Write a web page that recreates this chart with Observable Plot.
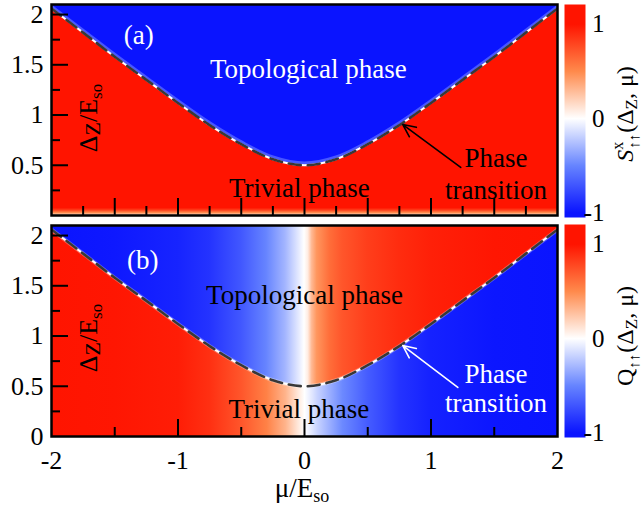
<!DOCTYPE html>
<html>
<head>
<meta charset="utf-8">
<script src="https://cdn.jsdelivr.net/npm/d3@7"></script>
<script src="https://cdn.jsdelivr.net/npm/@observablehq/plot@0.6"></script>
<style>
  html,body{margin:0;padding:0;background:#fff;}
  #fig{position:relative;width:641px;height:506px;overflow:hidden;background:#fff;}
  #fig svg{position:absolute;}
</style>
</head>
<body>
<div id="fig"></div>
<script>
// ---------------- data ----------------
// phase boundary (dashed curve), Δ_Z/E_so against μ/E_so
const muPoints      = [-2, -1.75, -1.5, -1.25, -1, -0.75, -0.5, -0.25, 0, 0.25, 0.5, 0.75, 1, 1.25, 1.5, 1.75, 2];
const boundaryDelta = [2.06, 1.82, 1.58, 1.35, 1.12, 0.90, 0.71, 0.56, 0.50, 0.56, 0.71, 0.90, 1.12, 1.35, 1.58, 1.82, 2.06];

// colour map of the colour bars
const colorValues = [-1, -0.5, 0, 0.5, 1];
const colorHexes  = ["#0a14ff", "#6684ff", "#ffffff", "#ff8a4c", "#ff1400"];

// panel (a): S^x value in each phase, and the fade close to Δ_Z = 0
const sTrivial = 1, sTopological = -1;
const fadeEdges  = [0, 0.01, 0.02, 0.03, 0.04, 0.05, 0.06, 0.07];
const fadeValues = [0.25, 0.36, 0.5, 0.63, 0.76, 0.86, 0.94];

// panel (b): Q profile along μ in each phase
const qMu          = [-2, -1.5, -1, -0.75, -0.5, -0.3, -0.15, -0.05, 0, 0.03, 0.06, 0.1, 0.2, 0.3, 0.5, 0.75, 1, 1.5, 2];
const qTopological = [-1, -0.98, -0.93, -0.86, -0.7, -0.5, -0.3, -0.1, 0, 0.08, 0.3, 0.45, 0.62, 0.72, 0.82, 0.9, 0.95, 0.99, 1];
const qTrivial     = [1, 0.99, 0.96, 0.88, 0.72, 0.54, 0.32, 0.1, 0, -0.05, -0.1, -0.18, -0.33, -0.48, -0.68, -0.86, -0.94, -0.99, -1];

// ticks
const yLabelsA = [0.5, 1, 1.5, 2];
const yLabelsB = [0, 0.5, 1, 1.5, 2];
const yMajor = [0.5, 1, 1.5, 2];
const yMinor = [0.25, 0.75, 1.25, 1.75];
const xMajorA = [-1.5, -1, -0.5, 0, 0.5, 1, 1.5];
const xMinorA = [-1.75, -1.25, -0.75, -0.25, 0.25, 0.75, 1.25, 1.75];
const xMajorB = [-1, 0, 1];
const xMinorB = [-1.5, -0.5, 0.5, 1.5];
const xLabels = [-2, -1, 0, 1, 2];
const cbTicks = [-1, 0, 1];

// annotations (data coordinates)
const labelsA = [
  {mu: -1.31, delta: 1.71, text: "(a)", fill: "white"},
  {mu: 0.03, delta: 1.365, text: "Topological phase", fill: "white"},
  {mu: -0.04, delta: 0.18, text: "Trivial phase", fill: "black"},
  {mu: 1.514, delta: 0.478, text: "Phase", fill: "black"},
  {mu: 1.514, delta: 0.169, text: "transition", fill: "black"}
];
const labelsB = [
  {mu: -1.278, delta: 1.67, text: "(b)", fill: "white"},
  {mu: 0.0, delta: 1.323, text: "Topological phase", fill: "black"},
  {mu: -0.045, delta: 0.189, text: "Trivial phase", fill: "black"},
  {mu: 1.514, delta: 0.537, text: "Phase", fill: "white"},
  {mu: 1.514, delta: 0.239, text: "transition", fill: "white"}
];
const arrowA = [{x1: 1.235, y1: 0.478, x2: 0.777, y2: 0.905}];
const arrowB = [{x1: 1.212, y1: 0.488, x2: 0.777, y2: 0.905}];

// ---------------- construction ----------------
const xDomain = [-2, 2], yMax = 2.1;
const cbMin = -1.05, cbMax = 1.21;
const FW = 506, FH = 211;
const FONT = "'Liberation Serif', 'Times New Roman', serif";
const curve = "catmull-rom";

const boundary = muPoints.map((mu, i) => ({mu, delta: boundaryDelta[i]}));
const fade = fadeValues.map((v, i) => ({lo: fadeEdges[i], hi: fadeEdges[i + 1], v}));

const colorOpts = {type: "linear", domain: colorValues, range: colorHexes, interpolate: "rgb", clamp: true};
const cscale = Plot.scale({color: colorOpts});
const col = v => cscale.apply(v);

const fig = d3.select("#fig");

// gradient definitions
const defsSvg = fig.append("svg").attr("width", 0).attr("height", 0).style("left", "0px").style("top", "0px");
const defs = defsSvg.append("defs");
function hGradient(id, mus, vals) {
  const g = defs.append("linearGradient").attr("id", id)
    .attr("x1", 0).attr("x2", 1).attr("y1", 0).attr("y2", 0);
  mus.forEach((m, i) => g.append("stop")
    .attr("offset", (m - xDomain[0]) / (xDomain[1] - xDomain[0]))
    .attr("stop-color", col(vals[i])));
}
hGradient("qTopoGrad", qMu, qTopological);
hGradient("qTrivGrad", qMu, qTrivial);
{
  const g = defs.append("linearGradient").attr("id", "cbGrad")
    .attr("x1", 0).attr("x2", 0).attr("y1", 1).attr("y2", 0);
  colorValues.forEach(v => g.append("stop")
    .attr("offset", (v - cbMin) / (cbMax - cbMin))
    .attr("stop-color", col(v)));
}

function rich(svg, x, y, parts, {size = 26, rotate = 0, anchor = "middle", fill = "black"} = {}) {
  const t = d3.select(svg).append("text")
    .attr("transform", `translate(${x},${y}) rotate(${rotate})`)
    .attr("text-anchor", anchor)
    .attr("font-family", FONT)
    .attr("font-size", size)
    .attr("fill", fill);
  let cur = 0;
  for (const p of parts) {
    const shift = p.shift || 0;
    const ts = t.append("tspan").text(p.t).attr("dy", shift - cur);
    if (p.size) ts.attr("font-size", p.size);
    if (p.dx) ts.attr("dx", p.dx);
    if (p.italic) ts.attr("font-style", "italic");
    cur = shift;
  }
}

function commonMarks(xMajor, xMinor) {
  return [
    Plot.line(boundary, {x: "mu", y: "delta", curve, stroke: "#383838", strokeWidth: 2.6, strokeDasharray: "12,7", clip: true}),
    Plot.tickY(yMajor, {y: d => d, stroke: "black", strokeWidth: 2, insetRight: FW - 17}),
    Plot.tickY(yMinor, {y: d => d, stroke: "black", strokeWidth: 2, insetRight: FW - 9}),
    Plot.tickX(xMajor, {x: d => d, stroke: "black", strokeWidth: 2, insetTop: FH - 17}),
    Plot.tickX(xMinor, {x: d => d, stroke: "black", strokeWidth: 2, insetTop: FH - 9}),
    Plot.frame({stroke: "black", strokeWidth: 2.5})
  ];
}
function textMarks(labels) {
  return ["white", "black"].map(c => Plot.text(labels.filter(d => d.fill === c), {
    x: "mu", y: "delta", text: "text", fill: c, fontSize: 27, lineAnchor: "bottom"
  }));
}

// ---------- panel (a) ----------
const pa = Plot.plot({
  width: 575, height: 220, marginLeft: 51, marginRight: 18, marginTop: 4, marginBottom: 5,
  style: {fontFamily: FONT, fontSize: "26px", background: "transparent"},
  x: {domain: xDomain, axis: null},
  y: {domain: [0, yMax], axis: null},
  color: colorOpts,
  marks: [
    Plot.frame({fill: col(sTrivial)}),
    Plot.rect(fade, {x1: () => xDomain[0], x2: () => xDomain[1], y1: "lo", y2: "hi", fill: "v", shapeRendering: "crispEdges"}),
    Plot.areaY(boundary, {x: "mu", y1: "delta", y2: () => yMax, fill: col(sTopological), curve}),
    Plot.line(boundary, {x: "mu", y: "delta", curve, stroke: col(-0.35), strokeWidth: 3.5, dy: -2, strokeOpacity: 0.45, clip: true}),
    Plot.line(boundary, {x: "mu", y: "delta", curve, stroke: "white", strokeWidth: 2, clip: true}),
    ...commonMarks(xMajorA, xMinorA),
    Plot.axisY(yLabelsA, {tickSize: 0, tickPadding: 8, fontSize: 26, tickFormat: d => String(d)}),
    ...textMarks(labelsA),
    Plot.arrow(arrowA, {x1: "x1", y1: "y1", x2: "x2", y2: "y2", stroke: "black", strokeWidth: 1.6, headLength: 13, headAngle: 50})
  ]
});
fig.node().appendChild(pa);
d3.select(pa).style("left", "0px").style("top", "0px");
rich(pa, 97, 118, [{t: "Δ"}, {t: "Z", size: 22, shift: 3}, {t: "/E"}, {t: "so", size: 17, shift: 5}], {size: 26, rotate: -90});

// ---------- panel (b) ----------
const pb = Plot.plot({
  width: 575, height: 286, marginLeft: 51, marginRight: 18, marginTop: 5, marginBottom: 70,
  style: {fontFamily: FONT, fontSize: "26px", background: "transparent"},
  x: {domain: xDomain, axis: null},
  y: {domain: [0, yMax], axis: null},
  color: colorOpts,
  marks: [
    Plot.frame({fill: "url(#qTrivGrad)"}),
    Plot.areaY(boundary, {x: "mu", y1: "delta", y2: () => yMax, fill: "url(#qTopoGrad)", curve}),
    Plot.line(boundary, {x: "mu", y: "delta", curve, stroke: "white", strokeWidth: 4, strokeOpacity: 0.3, clip: true}),
    Plot.line(boundary, {x: "mu", y: "delta", curve, stroke: "white", strokeWidth: 2, clip: true}),
    ...commonMarks(xMajorB, xMinorB),
    Plot.axisY(yLabelsB, {tickSize: 0, tickPadding: 8, fontSize: 26, tickFormat: d => String(d)}),
    Plot.axisX(xLabels, {tickSize: 0, tickPadding: 14, fontSize: 26, tickFormat: d => String(d)}),
    ...textMarks(labelsB),
    Plot.arrow(arrowB, {x1: "x1", y1: "y1", x2: "x2", y2: "y2", stroke: "white", strokeWidth: 1.6, headLength: 13, headAngle: 50})
  ]
});
fig.node().appendChild(pb);
d3.select(pb).style("left", "0px").style("top", "220px");
rich(pb, 97, 118, [{t: "Δ"}, {t: "Z", size: 22, shift: 3}, {t: "/E"}, {t: "so", size: 17, shift: 5}], {size: 26, rotate: -90});
rich(pb, 302, 277, [{t: "μ"}, {t: "/E"}, {t: "so", size: 18, shift: 5}], {size: 27});

// ---------- colour bars ----------
function colorbar(top, titleParts, titleY) {
  const cb = Plot.plot({
    width: 77, height: 240, marginLeft: 0, marginRight: 56, marginTop: 4, marginBottom: 23,
    style: {fontFamily: FONT, fontSize: "25px", background: "transparent"},
    y: {domain: [cbMin, cbMax], axis: null},
    marks: [
      Plot.frame({fill: "url(#cbGrad)"}),
      Plot.axisY(cbTicks, {anchor: "right", tickSize: 0, tickPadding: 19, textAnchor: "end", fontSize: 25, tickFormat: d => String(d)})
    ]
  });
  fig.node().appendChild(cb);
  d3.select(cb).style("left", "564px").style("top", top + "px");
  rich(cb, 69, titleY, titleParts, {size: 24, rotate: -90});
}
colorbar(0, [
  {t: "S", italic: true},
  {t: "x", size: 16, shift: -10},
  {t: "↑↑", size: 15, shift: 6, dx: -7},
  {t: "(Δ", dx: 1},
  {t: "Z", size: 17, shift: 4},
  {t: ", μ)"}
], 114);
colorbar(220, [
  {t: "Q"},
  {t: "↑↑", size: 15, shift: 6},
  {t: "(Δ", dx: 1},
  {t: "Z", size: 17, shift: 4},
  {t: ", μ)"}
], 116);
</script>
</body>
</html>
